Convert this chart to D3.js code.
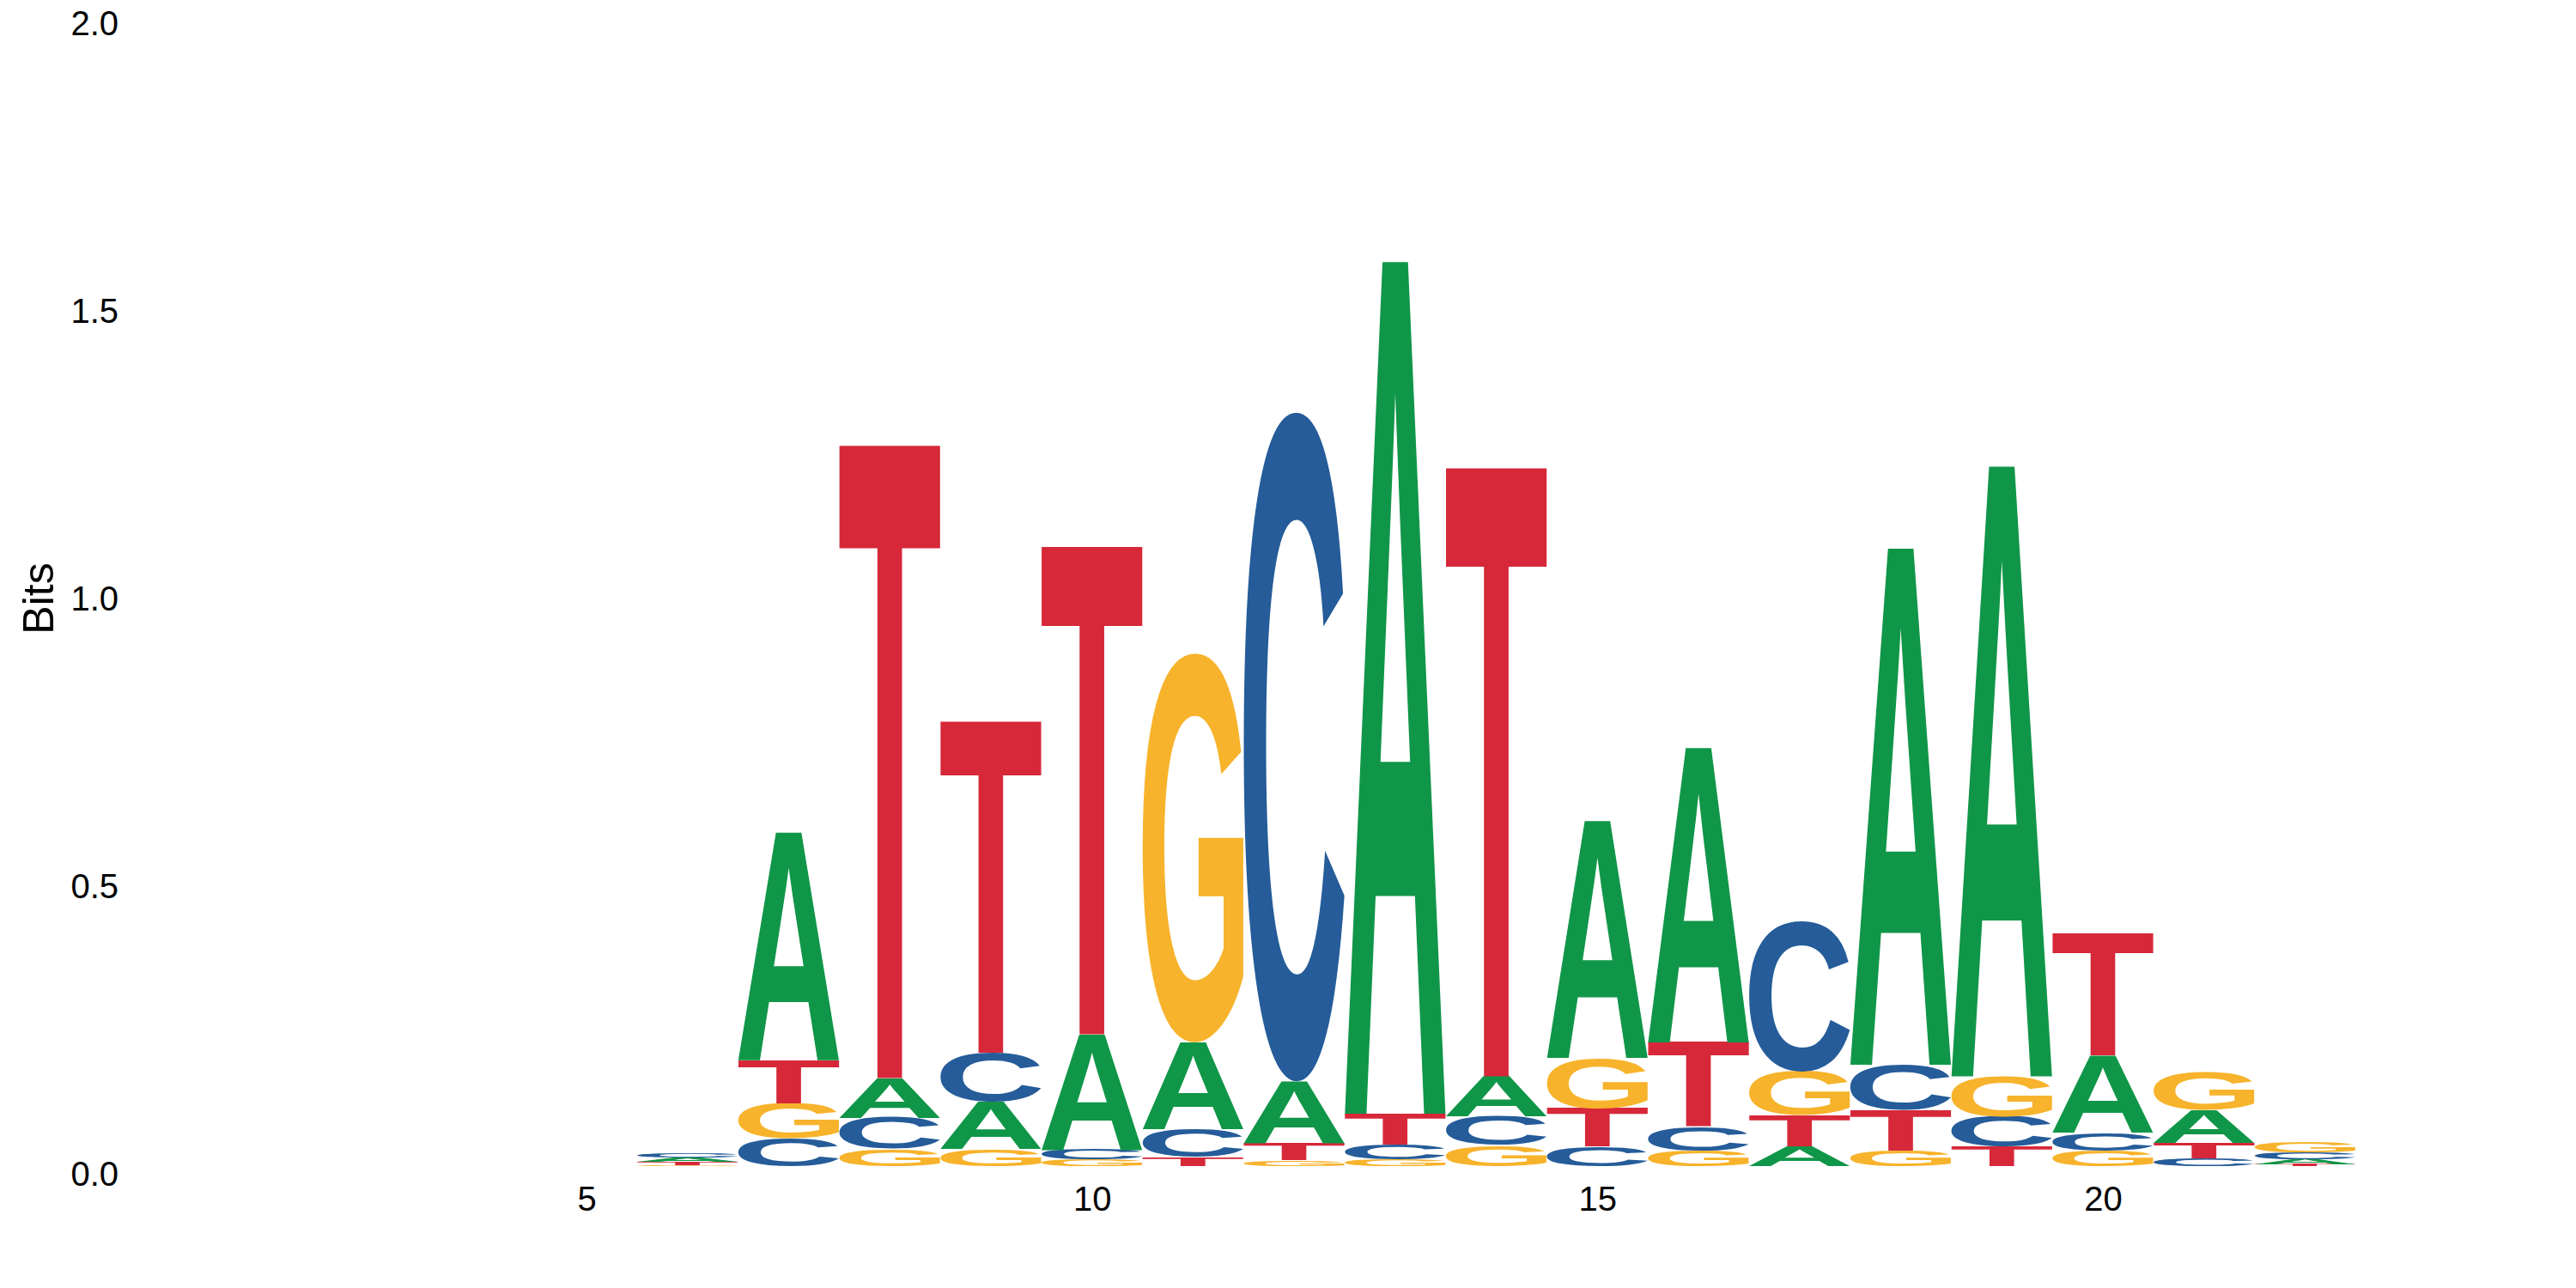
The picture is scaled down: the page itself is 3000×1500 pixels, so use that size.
<!DOCTYPE html>
<html>
<head>
<meta charset="utf-8">
<script src="https://cdn.jsdelivr.net/npm/d3@7"></script>
<style>
  html, body { margin: 0; padding: 0; background: #fff; }
  svg { display: block; }
  .tick text { font-family: "Liberation Sans", Arial, sans-serif; fill: #000; }
</style>
</head>
<body>
<script>
// sequence logo data (bits per letter, positions 6..22)
const positions = [6, 7, 8, 9, 10, 11, 12, 13, 14, 15, 16, 17, 18, 19, 20, 21, 22];
const bitsA = [0.007, 0.396, 0.069, 0.082, 0.200, 0.151, 0.107, 1.482, 0.070, 0.412, 0.512, 0.034, 0.898, 1.061, 0.134, 0.057, 0.009];
const bitsC = [0.008, 0.048, 0.054, 0.085, 0.018, 0.049, 1.163, 0.025, 0.050, 0.034, 0.042, 0.261, 0.079, 0.052, 0.031, 0.013, 0.012];
const bitsG = [0.002, 0.061, 0.030, 0.030, 0.011, 0.676, 0.010, 0.012, 0.036, 0.087, 0.027, 0.076, 0.027, 0.070, 0.027, 0.067, 0.018];
const bitsT = [0.006, 0.075, 1.100, 0.576, 0.848, 0.015, 0.030, 0.054, 1.058, 0.067, 0.146, 0.054, 0.070, 0.034, 0.212, 0.027, 0.003];
const xTicks = [5, 10, 15, 20];
const yTicks = [0, 0.5, 1, 1.5, 2];

const colors = { A: '#109648', C: '#255C99', G: '#F7B32B', T: '#D62839' };
const series = { A: bitsA, C: bitsC, G: bitsG, T: bitsT };

const W = 3000, H = 1500;
const svg = d3.select('body').append('svg').attr('width', W).attr('height', H);

const x = d3.scaleLinear().domain([5, 20]).range([683, 2449]);
const y = d3.scaleLinear().domain([0, 2]).range([1358, 18]);
const colW = (x(6) - x(5)) * 0.995;

// ink bounds of each glyph: draw it on a canvas and scan the pixels
const FS = 800;
const glyphFont = `bold ${FS}px "Liberation Sans"`;
const cv = document.createElement('canvas');
cv.width = 1200; cv.height = 1200;
const ctx = cv.getContext('2d', { willReadFrequently: true });
const ox = 200, oy = 950;
const bounds = {};
['A', 'C', 'G', 'T'].forEach(l => {
  ctx.clearRect(0, 0, cv.width, cv.height);
  ctx.font = glyphFont;
  ctx.textBaseline = 'alphabetic';
  ctx.fillStyle = '#000';
  ctx.fillText(l, ox, oy);
  const px = ctx.getImageData(0, 0, cv.width, cv.height).data;
  let x0 = cv.width, x1 = -1, y0 = cv.height, y1 = -1;
  for (let j = 0; j < cv.height; j++) {
    for (let i = 0; i < cv.width; i++) {
      if (px[(j * cv.width + i) * 4 + 3] > 100) {
        if (i < x0) x0 = i;
        if (i > x1) x1 = i;
        if (j < y0) y0 = j;
        if (j > y1) y1 = j;
      }
    }
  }
  bounds[l] = { left: x0 - ox, right: x1 + 1 - ox, top: y0 - oy, bottom: y1 + 1 - oy };
});

// build stacked letters, smallest at the bottom
const letters = [];
positions.forEach((p, i) => {
  const col = Object.keys(series).map(l => ({ letter: l, bits: series[l][i] }))
    .sort((a, b) => a.bits - b.bits);
  let base = 0;
  col.forEach(d => {
    letters.push({ pos: p, letter: d.letter, y0: base, y1: base + d.bits });
    base += d.bits;
  });
});

svg.append('g').selectAll('text')
  .data(letters)
  .enter()
  .append('text')
  .text(d => d.letter)
  .attr('fill', d => colors[d.letter])
  .style('font', glyphFont)
  .attr('transform', d => {
    const b = bounds[d.letter];
    const x0 = x(d.pos) - colW / 2;
    const yTop = y(d.y1);
    const h = Math.max(y(d.y0) - y(d.y1), 0.01);
    const sx = colW / (b.right - b.left);
    const sy = h / (b.bottom - b.top);
    return `translate(${x0 - b.left * sx},${yTop - b.top * sy}) scale(${sx},${sy})`;
  });

// axes
const yAxis = svg.append('g')
  .attr('transform', 'translate(150,0)')
  .call(d3.axisLeft(y).tickValues(yTicks).tickFormat(d3.format('.1f')).tickSize(0).tickPadding(12));
yAxis.select('.domain').remove();
yAxis.selectAll('text').attr('dy', '0.55em').style('font-size', '40px');

const xAxis = svg.append('g')
  .attr('transform', `translate(0,${y(0)})`)
  .call(d3.axisBottom(x).tickValues(xTicks).tickFormat(d3.format('d')).tickSize(0).tickPadding(24));
xAxis.select('.domain').remove();
xAxis.selectAll('text').style('font-size', '40px');

svg.append('text')
  .attr('transform', 'translate(62,697) rotate(-90)')
  .attr('text-anchor', 'middle')
  .style('font-family', '"Liberation Sans", Arial, sans-serif')
  .style('font-size', '50px')
  .attr('fill', '#000')
  .text('Bits');
</script>
</body>
</html>
